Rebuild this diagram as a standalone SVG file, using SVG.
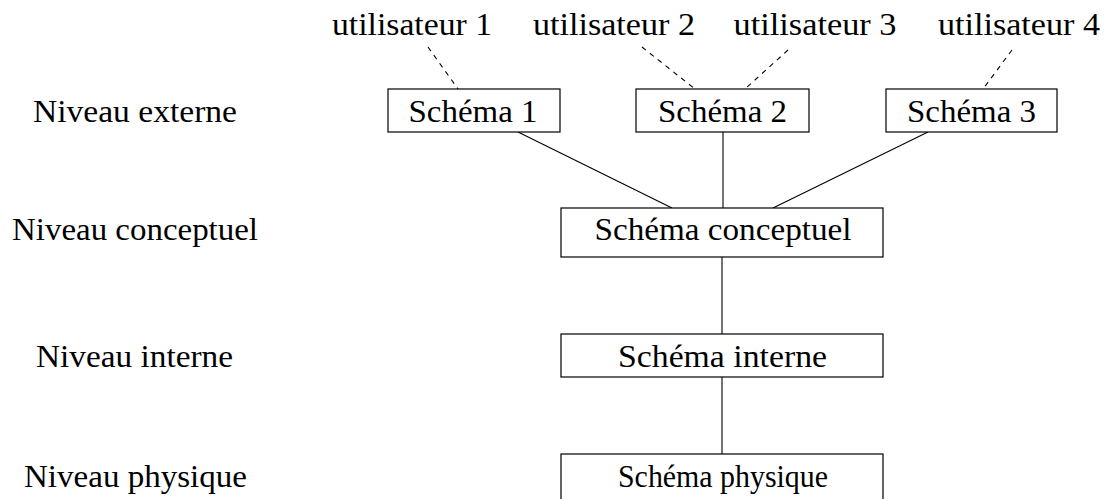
<svg xmlns="http://www.w3.org/2000/svg" width="1106" height="499" viewBox="0 0 1106 499">
<style>
text{font-family:'Liberation Serif','Times New Roman',serif;font-size:31px;fill:#000;text-anchor:middle}
rect{fill:#fff;stroke:#000;stroke-width:1.2}
.c line{stroke:#000;stroke-width:1.1}
.c line.d{stroke-dasharray:5 5}
</style>
<rect x="0" y="0" width="1106" height="499" style="stroke:none"/>
<g class="c" id="connectors">
<line class="d" x1="428" y1="47" x2="458" y2="89"/>
<line class="d" x1="642" y1="47" x2="695" y2="89"/>
<line class="d" x1="788" y1="50" x2="745" y2="89"/>
<line class="d" x1="1012" y1="50" x2="983" y2="89"/>
<line x1="518" y1="132" x2="672" y2="208"/>
<line x1="723" y1="132" x2="723" y2="208"/>
<line x1="928" y1="132" x2="773" y2="208"/>
<line x1="722" y1="257" x2="722" y2="334"/>
<line x1="722" y1="377" x2="722" y2="454"/>
</g>
<g id="labels">
<text x="135" y="122" textLength="204" lengthAdjust="spacingAndGlyphs">Niveau externe</text>
<text x="135" y="240" textLength="246" lengthAdjust="spacingAndGlyphs">Niveau conceptuel</text>
<text x="134.5" y="367" textLength="197" lengthAdjust="spacingAndGlyphs">Niveau interne</text>
<text x="135.5" y="487" textLength="223" lengthAdjust="spacingAndGlyphs">Niveau physique</text>
</g>
<g id="u1"><text x="412" y="35" textLength="160" lengthAdjust="spacingAndGlyphs">utilisateur 1</text></g>
<g id="u2"><text x="614" y="35" textLength="162" lengthAdjust="spacingAndGlyphs">utilisateur 2</text></g>
<g id="u3"><text x="815" y="35" textLength="163" lengthAdjust="spacingAndGlyphs">utilisateur 3</text></g>
<g id="u4"><text x="1019" y="35" textLength="162" lengthAdjust="spacingAndGlyphs">utilisateur 4</text></g>
<g id="s1"><rect x="388" y="89" width="172" height="43"/><text x="473" y="122" textLength="129" lengthAdjust="spacingAndGlyphs">Schéma 1</text></g>
<g id="s2"><rect x="636" y="89" width="173" height="43"/><text x="722.5" y="122" textLength="129" lengthAdjust="spacingAndGlyphs">Schéma 2</text></g>
<g id="s3"><rect x="886" y="89" width="171" height="43"/><text x="971.5" y="122" textLength="129" lengthAdjust="spacingAndGlyphs">Schéma 3</text></g>
<g id="sc"><rect x="561" y="208" width="322" height="49"/><text x="723" y="240" textLength="257" lengthAdjust="spacingAndGlyphs">Schéma conceptuel</text></g>
<g id="si"><rect x="561" y="334" width="322" height="43"/><text x="722.5" y="367" textLength="209" lengthAdjust="spacingAndGlyphs">Schéma interne</text></g>
<g id="sp"><rect x="561" y="454" width="322" height="60"/><text x="723" y="487" textLength="210" lengthAdjust="spacingAndGlyphs">Schéma physique</text></g>
</svg>
